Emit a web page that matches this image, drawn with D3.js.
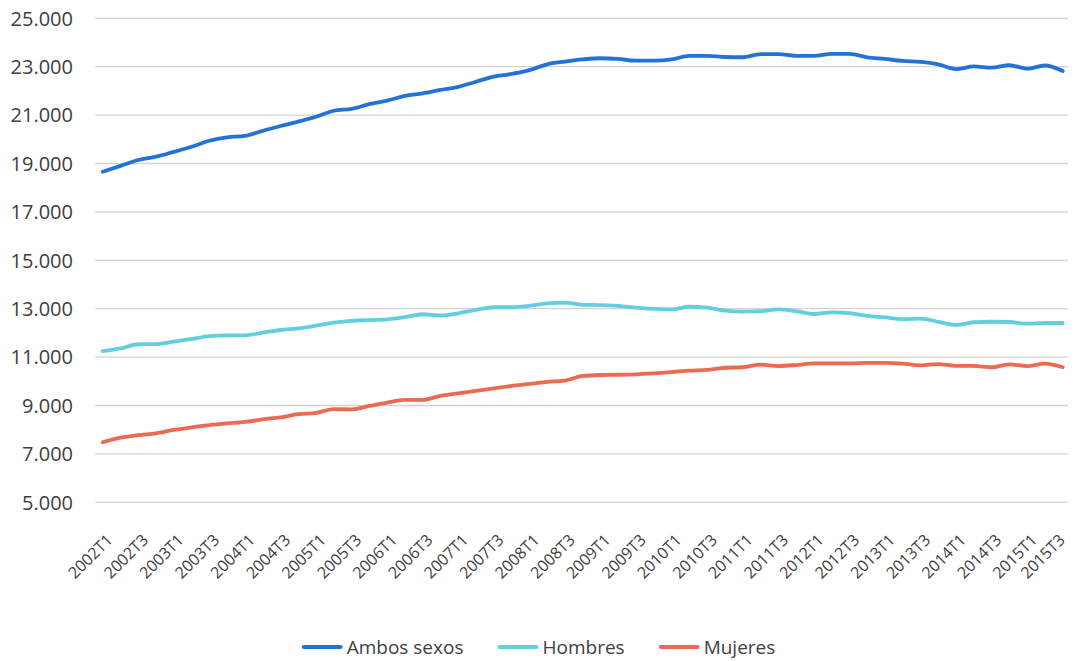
<!DOCTYPE html>
<html>
<head>
<meta charset="utf-8">
<script src="https://cdn.jsdelivr.net/npm/d3@7"></script>
<style>
  html, body { margin: 0; padding: 0; background: #fff; }
  svg { display: block; font-family: "Open Sans", "Noto Sans", sans-serif; }
</style>
</head>
<body>
<svg id="chart" width="1079" height="661"></svg>
<script>
// ---- Data ----
const years = d3.range(2002, 2016);
const quarters = [];
years.forEach(y => [1, 2, 3, 4].forEach(q => { if (!(y === 2015 && q === 4)) quarters.push(y + "T" + q); }));

const ambosSexos = [
  18660, 18900, 19145, 19280, 19480, 19690, 19940, 20080, 20140, 20350,
  20550, 20730, 20930, 21180, 21260, 21450, 21600, 21790, 21900, 22040,
  22170, 22380, 22590, 22700, 22860, 23100, 23210, 23300, 23350, 23320,
  23250, 23250, 23300, 23450, 23450, 23400, 23390, 23520, 23520, 23450,
  23450, 23530, 23530, 23390, 23320, 23240, 23200, 23100, 22900, 23010,
  22960, 23060, 22920, 23050, 22820
];
const hombres = [
  11250, 11360, 11530, 11540, 11640, 11750, 11870, 11900, 11900, 12010,
  12120, 12190, 12300, 12420, 12500, 12530, 12560, 12650, 12770, 12720,
  12810, 12950, 13060, 13060, 13120, 13220, 13250, 13160, 13150, 13120,
  13040, 12990, 12970, 13080, 13040, 12920, 12880, 12900, 12970, 12900,
  12780, 12850, 12820, 12700, 12640, 12570, 12590, 12460, 12330, 12440,
  12460, 12450, 12380, 12410, 12410
];
const mujeres = [
  7480, 7670, 7780, 7850, 7990, 8100, 8190, 8260, 8320, 8430,
  8510, 8640, 8700, 8850, 8840, 8980, 9120, 9230, 9230, 9400,
  9500, 9600, 9710, 9810, 9890, 9980, 10030, 10220, 10260, 10270,
  10290, 10330, 10380, 10440, 10470, 10560, 10580, 10690, 10630, 10670,
  10740, 10740, 10740, 10760, 10760, 10730, 10660, 10710, 10640, 10640,
  10580, 10700, 10630, 10730, 10580
];
const yTicks = [5000, 7000, 9000, 11000, 13000, 15000, 17000, 19000, 21000, 23000, 25000];
const xTickLabels = quarters.filter((q, i) => i % 2 === 0);

const seriesNames = ["Ambos sexos", "Hombres", "Mujeres"];
const seriesValues = [ambosSexos, hombres, mujeres];
const seriesColors = ["#2272d8", "#62cfe0", "#ec6952"];

// ---- Layout ----
const svg = d3.select("#chart");
const x = d3.scalePoint().domain(quarters).range([102.7, 1062.7]);
const y = d3.scaleLinear().domain([5000, 25000]).range([502.3, 18.3]);
const gridX0 = 95, gridX1 = 1068;

const locale = d3.formatLocale({ decimal: ",", thousands: ".", grouping: [3], currency: ["", "€"] });
const fmt = locale.format(",.0f");

// gridlines
svg.append("g").selectAll("line").data(yTicks).join("line")
  .attr("x1", gridX0).attr("x2", gridX1)
  .attr("y1", d => y(d)).attr("y2", d => y(d))
  .attr("stroke", "#d4d4d4").attr("stroke-width", 1.3);

// y axis labels
svg.append("g").selectAll("text").data(yTicks).join("text")
  .attr("x", 73).attr("y", d => y(d))
  .attr("dy", "0.36em")
  .attr("text-anchor", "end")
  .attr("font-size", 20)
  .attr("fill", "#404040")
  .text(d => fmt(d));

// x axis labels
svg.append("g").selectAll("text").data(xTickLabels).join("text")
  .attr("transform", d => {
    const bx = Math.min(x(d) + 11, 1066);
    return `translate(${bx},541) rotate(-45)`;
  })
  .attr("text-anchor", "end")
  .attr("font-size", 16)
  .attr("fill", "#404040")
  .text(d => d);

// lines
const line = d3.line().x((d, i) => x(quarters[i])).y(d => y(d)).curve(d3.curveMonotoneX);
seriesValues.forEach((vals, k) => {
  svg.append("path").datum(vals)
    .attr("d", line)
    .attr("fill", "none")
    .attr("stroke", seriesColors[k])
    .attr("stroke-width", 3.8)
    .attr("stroke-linejoin", "round")
    .attr("stroke-linecap", "round");
});

// legend
const lg = svg.append("g");
const ly = 647;
const items = seriesNames.map((name, k) => {
  const g = lg.append("g");
  g.append("line").attr("x1", 0).attr("x2", 37).attr("y1", ly).attr("y2", ly)
    .attr("stroke", seriesColors[k]).attr("stroke-width", 3.8).attr("stroke-linecap", "round");
  const t = g.append("text").attr("x", 43).attr("y", ly).attr("dy", "0.36em")
    .attr("font-size", 19).attr("fill", "#404040").text(name);
  return { g, w: 43 + t.node().getComputedTextLength() };
});
const gap = 36;
const total = d3.sum(items, d => d.w) + gap * (items.length - 1);
let cx = 539.5 - total / 2;
items.forEach(it => { it.g.attr("transform", `translate(${cx},0)`); cx += it.w + gap; });
</script>
</body>
</html>
